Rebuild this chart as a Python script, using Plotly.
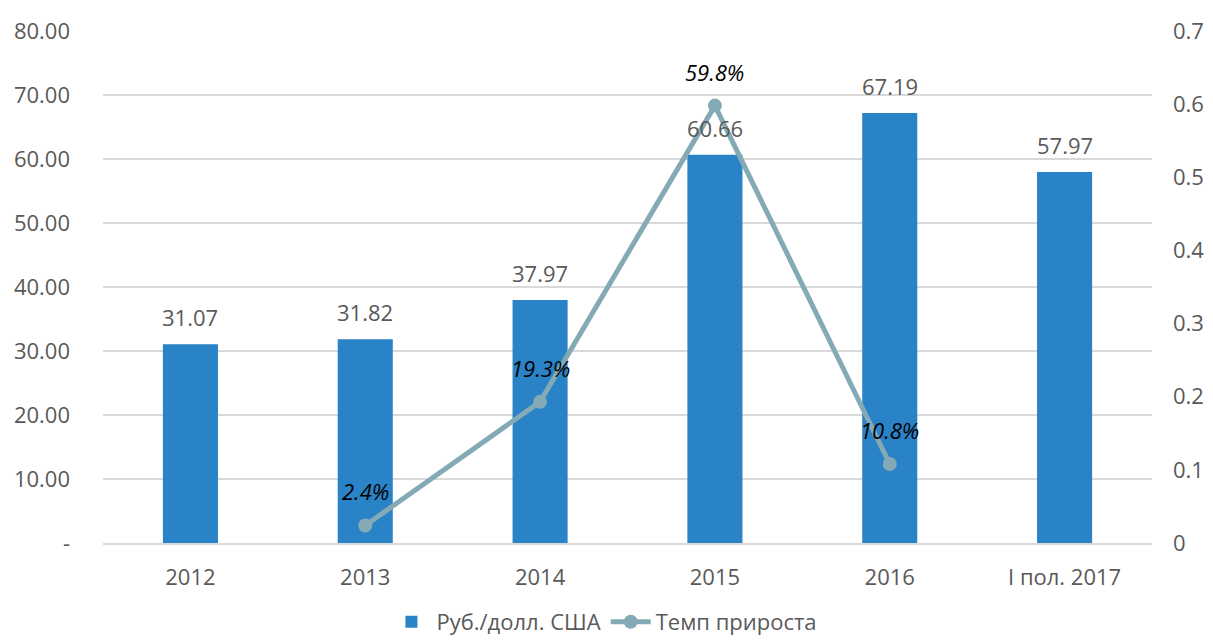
import plotly.graph_objects as go

categories = ["2012", "2013", "2014", "2015", "2016", "I пол. 2017"]
rate_values = [31.07, 31.82, 37.97, 60.66, 67.19, 57.97]
rate_labels = ["31.07", "31.82", "37.97", "60.66", "67.19", "57.97"]
growth_categories = ["2013", "2014", "2015", "2016"]
growth_values = [0.024, 0.193, 0.598, 0.108]
growth_labels = ["2.4%", "19.3%", "59.8%", "10.8%"]
left_ticks = [0, 10, 20, 30, 40, 50, 60, 70, 80]
left_ticktext = ["-", "10.00", "20.00", "30.00", "40.00", "50.00", "60.00", "70.00", "80.00"]
right_ticks = [0, 0.1, 0.2, 0.3, 0.4, 0.5, 0.6, 0.7]
right_ticktext = ["0", "0.1", "0.2", "0.3", "0.4", "0.5", "0.6", "0.7"]

BAR = "#2A82C7"
LINE = "#84AAB6"
TXT = "#595959"
GRID = "#D9D9D9"
FONT = "Open Sans"
FS = 22

fig = go.Figure()
fig.add_trace(go.Bar(
    x=categories, y=rate_values, name="Руб./долл. США",
    marker=dict(color=BAR, line=dict(width=0)),
    yaxis="y", hoverinfo="skip",
))
fig.add_trace(go.Scatter(
    x=growth_categories, y=growth_values, name="Темп прироста",
    mode="lines+markers", yaxis="y2",
    line=dict(color=LINE, width=5),
    marker=dict(color=LINE, size=14),
    hoverinfo="skip",
))

annotations = []
for c, v, t in zip(categories, rate_values, rate_labels):
    annotations.append(dict(x=categories.index(c), y=v, xref="x", yref="y", text=t, showarrow=False,
                            yanchor="middle", yshift=27,
                            font=dict(family=FONT, size=FS, color=TXT)))
for c, v, t in zip(growth_categories, growth_values, growth_labels):
    annotations.append(dict(x=categories.index(c), y=v, xref="x", yref="y2", text="<i>" + t + "</i>",
                            showarrow=False, yanchor="middle", yshift=34,
                            font=dict(family=FONT, size=FS, color="#000000")))

fig.update_layout(
    width=1205, height=635,
    margin=dict(l=95, r=61, t=23, b=100, autoexpand=False),
    paper_bgcolor="white", plot_bgcolor="white",
    font=dict(family=FONT, size=FS, color=TXT),
    bargap=0.685,
    showlegend=True,
    legend=dict(orientation="h", x=0.478, xanchor="center",
                yref="container", y=0.0, yanchor="bottom",
                font=dict(family=FONT, size=FS, color=TXT), itemwidth=40,
                traceorder="normal"),
    xaxis=dict(type="category", categoryorder="array", categoryarray=categories,
               range=[-0.5, len(categories) - 0.5], autorange=False, automargin=False,
               showgrid=False, showline=True, linecolor=GRID, linewidth=1.5,
               ticks="", tickfont=dict(family=FONT, size=FS, color=TXT), ticklabelstandoff=14),
    yaxis=dict(range=[0, 80], tickvals=left_ticks, ticktext=left_ticktext, automargin=False,
               showgrid=True, gridcolor=GRID, gridwidth=1.5, zeroline=False,
               ticks="", ticklabelstandoff=32,
               tickfont=dict(family=FONT, size=FS, color=TXT)),
    yaxis2=dict(range=[0, 0.7], tickvals=right_ticks, ticktext=right_ticktext, automargin=False,
                overlaying="y", side="right", showgrid=False, zeroline=False,
                ticks="", ticklabelstandoff=20,
                tickfont=dict(family=FONT, size=FS, color=TXT)),
    annotations=annotations,
)

fig.write_html("out.html")
